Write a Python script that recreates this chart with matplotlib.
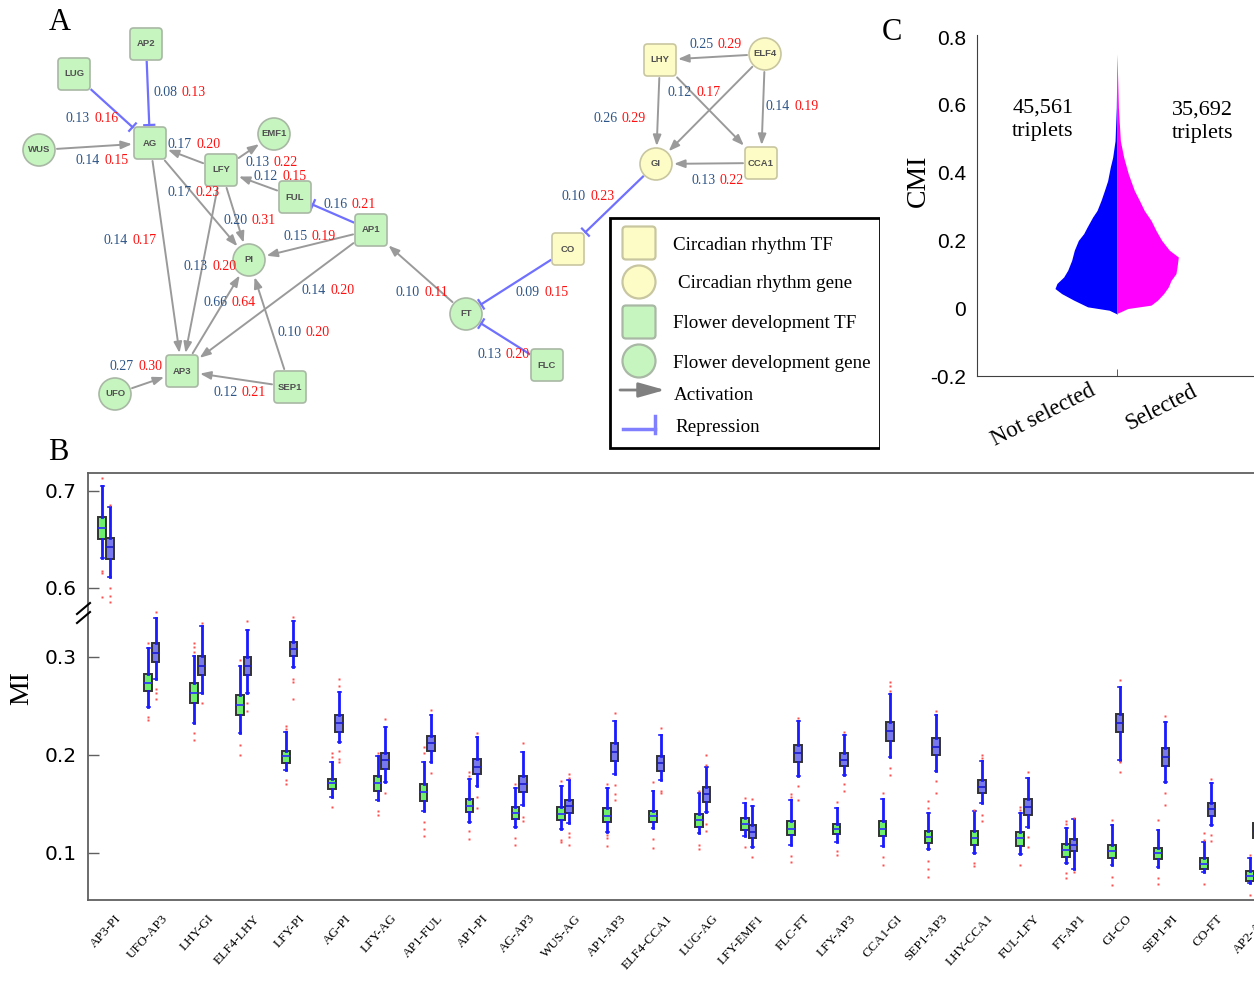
import numpy as np
import matplotlib
matplotlib.use('Agg')
import matplotlib.pyplot as plt
from matplotlib.patches import FancyBboxPatch, Circle, Rectangle
from matplotlib.lines import Line2D

SERIF = 'Liberation Serif'
SANS = 'Liberation Sans'
plt.rcParams['font.family'] = [SERIF, 'DejaVu Serif']

# ===== PANEL A: NETWORK =====
node_names = ['AP2', 'LUG', 'WUS', 'AG', 'EMF1', 'LFY', 'FUL', 'AP1', 'PI', 'AP3', 'UFO', 'SEP1',
              'LHY', 'ELF4', 'GI', 'CCA1', 'CO', 'FT', 'FLC']
# kind: (group, shape)  group: 'c' circadian / 'f' flower ; shape: 's' TF square / 'o' gene circle
node_kinds = ['fs', 'fs', 'fo', 'fs', 'fo', 'fs', 'fs', 'fs', 'fo', 'fs', 'fo', 'fs',
              'cs', 'co', 'co', 'cs', 'cs', 'fo', 'fs']
# layout (pixel positions in panel A)
node_xy = [(146, 44), (74, 74), (39, 150), (150, 143), (274, 134), (221, 170), (295, 197),
           (371, 230), (249, 260), (182, 371), (115, 394), (290, 387),
           (660, 60), (765, 54), (656, 164), (761, 163), (568, 249), (466, 314), (547, 365)]

edge_src = ['AP2', 'LUG', 'WUS', 'LFY', 'LFY', 'FUL', 'AP1', 'AG', 'LFY', 'AG', 'LFY', 'AP1', 'AP1',
            'AP3', 'SEP1', 'UFO', 'SEP1', 'FT', 'CO', 'FLC', 'GI', 'ELF4', 'LHY', 'LHY', 'ELF4',
            'ELF4', 'CCA1']
edge_dst = ['AG', 'AG', 'AG', 'AG', 'EMF1', 'LFY', 'FUL', 'PI', 'PI', 'AP3', 'AP3', 'PI', 'AP3',
            'PI', 'PI', 'AP3', 'AP3', 'AP1', 'FT', 'FT', 'CO', 'LHY', 'GI', 'CCA1', 'GI',
            'CCA1', 'GI']
edge_type = ['rep', 'rep', 'act', 'act', 'act', 'act', 'rep', 'act', 'act', 'act', 'act', 'act', 'act',
             'act', 'act', 'act', 'act', 'act', 'rep', 'rep', 'rep', 'act', 'act', 'act', 'act',
             'act', 'act']
edge_mi = [0.08, 0.13, 0.14, 0.17, 0.13, 0.12, 0.16, 0.17, 0.20, 0.14, 0.13, 0.15, 0.14,
           0.66, 0.10, 0.27, 0.12, 0.10, 0.09, 0.13, 0.10, 0.25, 0.26, 0.12, None, 0.14, 0.13]
edge_cmi = [0.13, 0.16, 0.15, 0.20, 0.22, 0.15, 0.21, 0.23, 0.31, 0.17, 0.20, 0.19, 0.20,
            0.64, 0.20, 0.30, 0.21, 0.11, 0.15, 0.20, 0.23, 0.29, 0.29, 0.17, None, 0.19, 0.22]
label_xy = [(153, 92), (66, 119), (76, 161), (168, 145), (245, 162), (254, 177), (323, 205),
            (167, 193), (223, 220), (104, 241), (184, 267), (283, 236), (302, 291), (203, 302),
            (277, 333), (110, 366), (213, 393), (396, 292), (516, 292), (477, 354), (562, 197),
            (689, 45), (593, 118), (668, 93), None, (766, 107), (691, 181)]

legend_labels = ['Circadian rhythm TF', ' Circadian rhythm gene', 'Flower development TF',
                 'Flower development gene', 'Activation', 'Repression']

# ===== PANEL B: MI BOXPLOTS =====
pairs = ['AP3-PI', 'UFO-AP3', 'LHY-GI', 'ELF4-LHY', 'LFY-PI', 'AG-PI', 'LFY-AG', 'AP1-FUL',
         'AP1-PI', 'AG-AP3', 'WUS-AG', 'AP1-AP3', 'ELF4-CCA1', 'LUG-AG', 'LFY-EMF1', 'FLC-FT',
         'LFY-AP3', 'CCA1-GI', 'SEP1-AP3', 'LHY-CCA1', 'FUL-LFY', 'FT-AP1', 'GI-CO', 'SEP1-PI',
         'CO-FT', 'AP2-AG']

green_q1 = [.651, .2653, .2527, .2405, .1922, .165, .1633, .153, .1415, .1344, .1337, .132, .132,
            .127, .1235, .118, .119, .1177, .1099, .108, .1075, .0963, .095, .0935, .0834, .0714]
green_med = [.6615, .2738, .263, .251, .199, .171, .171, .162, .148, .141, .1398, .138, .1374,
             .1337, .130, .125, .1245, .125, .1167, .1156, .115, .103, .102, .0997, .0888, .0768]
green_q3 = [.6735, .2823, .2731, .2609, .2044, .176, .1786, .170, .155, .1473, .147, .146, .1429,
            .1394, .1354, .1327, .130, .1327, .1224, .1224, .1214, .1089, .108, .1055, .0946, .0816]
green_lo = [.631, .249, .2323, .2221, .1847, .1575, .154, .143, .132, .127, .124, .1218, .126,
            .120, .117, .108, .1116, .1075, .1038, .1003, .0987, .090, .0878, .086, .081, .069]
green_hi = [.705, .309, .3013, .2908, .2238, .193, .199, .193, .1755, .166, .1687, .166, .1636,
            .161, .151, .154, .146, .155, .141, .1429, .141, .126, .129, .1235, .111, .095]
green_fliers = [[.713, .618, .615, .591], [.3146, .239, .236], [.314, .31, .305, .222, .215],
                [.297, .21, .2], [.23, .227, .1745, .170], [.202, .198, .147], [.202, .143, .139],
                [.208, .202, .132, .125, .117], [.183, .179, .122, .114], [.17, .1157, .108],
                [.173, .113, .111], [.17, .118, .115, .107], [.172, .114, .105], [.163, .108, .104],
                [.156, .106], [.16, .157, .097, .091], [.152, .102, .098], [.161, .096, .088],
                [.153, .146, .092, .084, .076], [.144, .09, .087], [.147, .144, .088],
                [.133, .130, .08, .075], [.134, .076, .067], [.134, .075, .068], [.12, .113, .068],
                [.098, .057]]

blue_q1 = [.630, .2946, .2816, .2816, .301, .2238, .1854, .2044, .1806, .1626, .141, .194, .1837,
           .1524, .1156, .1925, .1888, .2146, .200, .161, .1388, .102, .223, .1888, .138, .115]
blue_med = [.642, .3044, .2908, .2908, .3084, .233, .195, .212, .188, .170, .148, .2034, .1915,
            .160, .1218, .2016, .195, .2248, .2085, .1675, .1473, .108, .233, .198, .1445, .122]
blue_q3 = [.652, .314, .301, .2996, .3156, .2408, .2024, .2197, .196, .1789, .154, .212, .199,
           .167, .1286, .210, .2017, .234, .217, .175, .1547, .114, .2418, .2068, .1513, .131]
blue_lo = [.611, .278, .263, .2636, .29, .2136, .1728, .193, .1687, .149, .131, .181, .1745,
           .142, .106, .1786, .180, .198, .184, .1507, .127, .0834, .195, .172, .129, .100]
blue_hi = [.683, .3395, .3316, .328, .337, .2646, .2289, .2408, .2187, .2034, .1745, .235, .2204,
           .188, .148, .235, .2204, .262, .2408, .194, .177, .1344, .269, .234, .171, .150]
blue_fliers = [[.686, .600, .592, .586], [.346, .267, .263, .257], [.335, .2527],
               [.3367, .2527, .245], [.341, .278, .275, .257], [.278, .27, .204, .196, .193],
               [.2364, .1615], [.246, .182], [.2228, .1575, .146], [.212, .137, .133],
               [.181, .177, .12, .116, .108], [.2425, .169, .16, .154], [.228, .163, .161],
               [.2, .19, .13, .122], [.155, .096], [.2374, .168, .154], [.223, .17, .163],
               [.275, .27, .265, .187, .18], [.245, .173, .161], [.2, .197, .139, .133],
               [.183, .116, .106], [.136, .081], [.277, .193, .183], [.24, .161, .149],
               [.176, .118, .112], [.155, .095]]

# ===== PANEL C: CMI SPLIT VIOLIN =====
not_selected_levels = [-0.018, -0.016, -0.006, 0.004, 0.024, 0.043, 0.058, 0.073, 0.092, 0.112,
                       0.141, 0.171, 0.20, 0.22, 0.239, 0.269, 0.288, 0.318, 0.347, 0.376,
                       0.416, 0.445, 0.494, 0.592, 0.749]
not_selected_w = [0.0, 0.005, 0.055, 0.21, 0.31, 0.395, 0.443, 0.429, 0.381, 0.352,
                  0.324, 0.305, 0.276, 0.238, 0.214, 0.174, 0.143, 0.114, 0.090, 0.067,
                  0.048, 0.031, 0.014, 0.005, 0.0]
selected_levels = [-0.015, -0.011, -0.001, 0.009, 0.024, 0.043, 0.063, 0.082, 0.102, 0.122,
                   0.151, 0.171, 0.20, 0.229, 0.259, 0.288, 0.318, 0.347, 0.396, 0.445,
                   0.494, 0.592, 0.749]
selected_w = [0.0, 0.024, 0.076, 0.243, 0.290, 0.333, 0.367, 0.386, 0.421, 0.429,
              0.438, 0.374, 0.319, 0.279, 0.243, 0.195, 0.160, 0.124, 0.081, 0.048,
              0.024, 0.010, 0.0]
triplet_counts = ['45,561', '35,692']
groups_c = ['Not selected', 'Selected']

# ===== FIGURE =====
W, H = 1254, 981
fig = plt.figure(figsize=(W / 100, H / 100), dpi=100)


def fig_rect(x0, y0, x1, y1):
    return [x0 / W, 1 - y1 / H, (x1 - x0) / W, (y1 - y0) / H]


# ----- panel A -----
axA = fig.add_axes(fig_rect(0, 0, 880, 450))
axA.set_xlim(0, 880)
axA.set_ylim(450, 0)
axA.axis('off')

FILL = {'c': '#fdfcc6', 'f': '#c6f5c0'}
EDGE = {'c': '#c8c6a0', 'f': '#a8b8a4'}
pos = dict(zip(node_names, node_xy))
kind = dict(zip(node_names, node_kinds))
HALF = 16


def draw_node(ax, x, y, k, half=HALF, lw=1.2, label=None):
    if k[1] == 's':
        p = FancyBboxPatch((x - half, y - half), 2 * half, 2 * half,
                           boxstyle='round,pad=0,rounding_size=3.5',
                           fc=FILL[k[0]], ec=EDGE[k[0]], lw=lw, zorder=3)
    else:
        p = Circle((x, y), half, fc=FILL[k[0]], ec=EDGE[k[0]], lw=lw, zorder=3)
    ax.add_patch(p)
    if label:
        ax.text(x, y, label, ha='center', va='center', fontsize=6.8, family=SANS,
                fontweight='bold', color='#505050', zorder=4)


def border(name, toward, gap=2):
    x, y = pos[name]
    dx, dy = toward[0] - x, toward[1] - y
    d = np.hypot(dx, dy)
    ux, uy = dx / d, dy / d
    if kind[name][1] == 's':
        t = HALF / max(abs(ux), abs(uy))
    else:
        t = HALF
    t += gap
    return x + ux * t, y + uy * t


for s, d, typ in zip(edge_src, edge_dst, edge_type):
    p0 = border(s, pos[d])
    p1 = border(d, pos[s])
    if typ == 'act':
        axA.annotate('', xy=p1, xytext=p0,
                     arrowprops=dict(arrowstyle='-|>,head_length=0.8,head_width=0.3',
                                     mutation_scale=8, color='#9a9a9a', lw=1.4,
                                     shrinkA=0, shrinkB=0), zorder=2)
    else:
        axA.plot([p0[0], p1[0]], [p0[1], p1[1]], color='#7070ff', lw=1.6, zorder=2)
        ux, uy = p1[0] - p0[0], p1[1] - p0[1]
        n = np.hypot(ux, uy)
        px, py = -uy / n * 5, ux / n * 5
        axA.plot([p1[0] - px, p1[0] + px], [p1[1] - py, p1[1] + py], color='#7070ff',
                 lw=1.6, zorder=2)

for lab_pos, mi, cmi in zip(label_xy, edge_mi, edge_cmi):
    if lab_pos is None:
        continue
    t = axA.text(lab_pos[0], lab_pos[1], f'{mi:.2f}', color='#2d5587', fontsize=10,
                 family=SERIF, ha='left', va='center', zorder=5)
    axA.annotate(f'{cmi:.2f}', xy=(1, 0.5), xycoords=t, xytext=(3, 0),
                 textcoords='offset points', color='#ff1010', fontsize=10, family=SERIF,
                 ha='left', va='center', zorder=5)

for n in node_names:
    draw_node(axA, pos[n][0], pos[n][1], kind[n], label=n)

# legend
axA.add_patch(Rectangle((610, 218), 270, 230, fill=False, ec='black', lw=2, zorder=3))
legend_icons = ['cs', 'co', 'fs', 'fo']
for i, (k, y) in enumerate(zip(legend_icons, [243, 282, 322, 361])):
    draw_node(axA, 639, y, k, half=16.5, lw=1.6)
    axA.text(678 if i == 1 else 673, y + 2, legend_labels[i].strip(), fontsize=13.7,
             family=SERIF, ha='left', va='center', zorder=4)
axA.annotate('', xy=(665, 390), xytext=(620, 390),
             arrowprops=dict(arrowstyle='-|>,head_length=1.6,head_width=0.45',
                             mutation_scale=10, color='#808080', lw=2,
                             shrinkA=0, shrinkB=0))
axA.text(674, 395, legend_labels[4], fontsize=13.7, family=SERIF, ha='left', va='center')
axA.plot([623, 655], [429, 429], color='#8080ff', lw=2.5)
axA.plot([655, 655], [416, 433], color='#8080ff', lw=2.5)
axA.text(675, 428, legend_labels[5], fontsize=13.7, family=SERIF, ha='left', va='center')

# ----- panel B -----
step = 45.9
x = np.arange(1, len(pairs) + 1)
xl = 1 - (106 - 88) / step
xr = xl + 1200 / step
ax_top = fig.add_axes(fig_rect(88, 473, 1288, 610))
ax_bot = fig.add_axes(fig_rect(88, 610, 1288, 900))


def stats(q1, med, q3, lo, hi, fl):
    return [dict(q1=a, med=b, q3=c, whislo=d, whishi=e, fliers=f)
            for a, b, c, d, e, f in zip(q1, med, q3, lo, hi, fl)]


green_stats = stats(green_q1, green_med, green_q3, green_lo, green_hi, green_fliers)
blue_stats = stats(blue_q1, blue_med, blue_q3, blue_lo, blue_hi, blue_fliers)

for ax in (ax_top, ax_bot):
    for st, off, fc, mc in [(green_stats, -0.082, '#6ef06e', '#2a2aff'),
                            (blue_stats, 0.082, '#7878f0', '#1a1acc')]:
        ax.bxp(st, positions=x + off, widths=0.165, patch_artist=True, manage_ticks=False,
               boxprops=dict(facecolor=fc, edgecolor='#333333', linewidth=1.4),
               medianprops=dict(color=mc, lw=1.2),
               whiskerprops=dict(color='#1a1aff', lw=2),
               capprops=dict(color='#1a1aff', lw=1.2), capwidths=0.06,
               flierprops=dict(marker='s', markerfacecolor='#ff5050', markeredgecolor='none',
                               markersize=1.8, linestyle='none'))
    ax.set_xlim(xl, xr)
    for sp in ax.spines.values():
        sp.set_color('#606060')
        sp.set_linewidth(1.3)
    ax.tick_params(axis='y', direction='in', length=8, width=1, labelsize=14.5, pad=8,
                   colors='#606060', labelcolor='black')

ax_top.set_ylim(0.6 - 22 / 970, 0.7 + 18 / 970)
ax_top.set_yticks([0.6, 0.7], ['0.6', '0.7'], family='DejaVu Sans')
ax_top.spines['bottom'].set_visible(False)
ax_top.tick_params(axis='x', length=0, labelbottom=False)

ax_bot.set_ylim(0.1 - 47 / 980, 0.3 + 47 / 980)
ax_bot.set_yticks([0.1, 0.2, 0.3], ['0.1', '0.2', '0.3'], family='DejaVu Sans')
ax_bot.spines['top'].set_visible(False)
ax_bot.set_xticks(x + 0.2)
ax_bot.set_xticklabels(pairs, rotation=48, ha='right', va='top', rotation_mode='anchor',
                       fontsize=9.5, family=SERIF)
ax_bot.tick_params(axis='x', length=0, pad=9)

for yy in (614, 623):
    fig.add_artist(Line2D([77 / W, 90 / W], [1 - yy / H, 1 - (yy - 11) / H],
                          color='black', lw=1.5))
fig.text(22 / W, 1 - 688 / H, 'MI', rotation=90, ha='center', va='center', fontsize=20,
         family=SERIF)

# ----- panel C -----
axC = fig.add_axes(fig_rect(977, 35, 1257, 376))
axC.fill_betweenx(not_selected_levels, 1 - np.array(not_selected_w), 1,
                  color='#0000ff', lw=0)
axC.fill_betweenx(selected_levels, 1, 1 + np.array(selected_w), color='#ff00ff', lw=0)
axC.set_xlim(0, 2)
axC.set_ylim(-0.2, 0.8 + 2 / 339)
axC.spines['top'].set_visible(False)
axC.spines['right'].set_visible(False)
for sp in axC.spines.values():
    sp.set_color('#404040')
axC.set_yticks([-0.2, 0, 0.2, 0.4, 0.6, 0.8], ['-0.2', '0', '0.2', '0.4', '0.6', '0.8'])
axC.tick_params(axis='y', length=0, labelsize=15, pad=8)
for lab in axC.get_yticklabels():
    lab.set_family(SANS)
axC.set_xticks([0.80, 1.53])
axC.set_xticklabels(groups_c, rotation=27, ha='right', va='top', rotation_mode='anchor',
                    fontsize=16.5, family=SERIF)
axC.tick_params(axis='x', length=0, pad=3)
axC.set_xticks([1], minor=True)
axC.tick_params(axis='x', which='minor', direction='in', length=5, color='#404040')
axC.set_ylabel('CMI', fontsize=20, family=SERIF)
axC.yaxis.set_label_coords((931 - 977) / 280, (376 - 181) / 341)
axC.text(0.47, 0.555, f'{triplet_counts[0]}\ntriplets', ha='center', va='center',
         fontsize=16, family=SERIF, linespacing=1.3)
axC.text(1.61, 0.55, f'{triplet_counts[1]}\ntriplets', ha='center', va='center',
         fontsize=16, family=SERIF, linespacing=1.3)

# panel letters
for letter, (lx, ly) in zip('ABC', [(60, 22), (58, 452), (892, 32)]):
    fig.text(lx / W, 1 - ly / H, letter, ha='center', va='center', fontsize=22, family=SERIF)

fig.savefig('out.png', dpi=100)
